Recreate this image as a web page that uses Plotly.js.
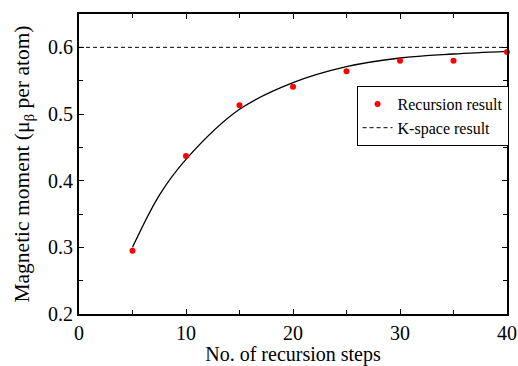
<!DOCTYPE html>
<html>
<head>
<meta charset="utf-8">
<script src="https://cdn.plot.ly/plotly-3.0.1.min.js"></script>
<style>html,body{margin:0;padding:0;background:#fff;}#chart{width:518px;height:366px;}</style>
</head>
<body>
<div id="chart"></div>
<script>
// Recursion result points
const steps = [5, 10, 15, 20, 25, 30, 35, 40];
const recursion = [0.295, 0.437, 0.513, 0.541, 0.564, 0.580, 0.580, 0.593];
// Fitted curve
const fitX = [5, 7.5, 10, 15, 20, 25, 30, 35, 40];
const fitY = [0.300, 0.378, 0.432, 0.507, 0.547, 0.571, 0.584, 0.590, 0.594];
// K-space reference value
const kspaceX = [0, 40];
const kspaceY = [0.6, 0.6];
const xTicks = [0, 10, 20, 30, 40];
const yTicks = [0.2, 0.3, 0.4, 0.5, 0.6];

const font = "Liberation Serif";
const data = [
  {x: fitX, y: fitY, mode: 'lines', line: {color: 'black', width: 1.3, shape: 'spline'}, showlegend: false, hoverinfo: 'skip'},
  {x: steps, y: recursion, mode: 'markers', name: 'Recursion result', marker: {color: '#ff0000', size: 6}, cliponaxis: false},
  {x: kspaceX, y: kspaceY, mode: 'lines', name: 'K-space result', line: {color: 'black', width: 1, dash: '4px,3px'}}
];
const axisCommon = {
  showline: true, linecolor: 'black', linewidth: 2, mirror: 'ticks',
  ticks: 'inside', ticklen: 5, tickwidth: 1, tickcolor: 'black',
  showgrid: false, zeroline: false,
  tickfont: {family: font, size: 20, color: 'black'}
};
const layout = {
  width: 518, height: 366,
  margin: {l: 79, r: 10, t: 14, b: 52},
  paper_bgcolor: 'white', plot_bgcolor: 'white',
  font: {family: font, size: 16, color: 'black'},
  xaxis: Object.assign({}, axisCommon, {
    range: [0, 40], tickvals: xTicks, ticktext: xTicks.map(String),
    minor: {ticks: 'inside', dtick: 5, tick0: 0, ticklen: 4, tickcolor: 'black'},
    title: {text: 'No. of recursion steps', font: {family: font, size: 20, color: 'black'}, standoff: 8}
  }),
  yaxis: Object.assign({}, axisCommon, {
    range: [0.2, 0.65], tickvals: yTicks, ticktext: yTicks.map(v => v.toFixed(1)),
    minor: {ticks: 'inside', dtick: 0.05, tick0: 0.2, ticklen: 4, tickcolor: 'black'},
    title: {text: 'Magnetic moment (μ<sub>β</sub> per atom)', font: {family: font, size: 21.5, color: 'black'}, standoff: 12}
  }),
  legend: {
    x: 0.647, y: 0.76, xanchor: 'left', yanchor: 'top',
    bordercolor: 'black', borderwidth: 1, bgcolor: 'white',
    font: {family: font, size: 16, color: 'black'},
    tracegroupgap: 0, itemwidth: 30
  }
};
Plotly.newPlot('chart', data, layout, {staticPlot: true});
</script>
</body>
</html>
